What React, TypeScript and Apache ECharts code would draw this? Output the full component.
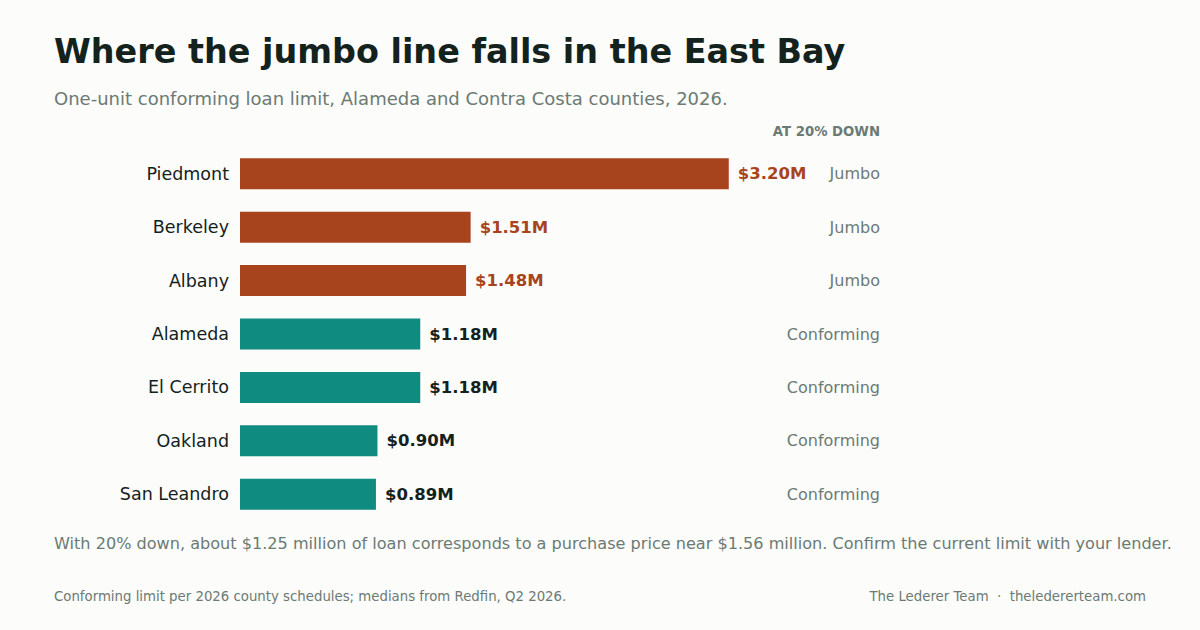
import { useEffect, useRef } from 'react';
import * as echarts from 'echarts';

// Conforming limit / median by city, in millions
const cities = ['Piedmont', 'Berkeley', 'Albany', 'Alameda', 'El Cerrito', 'Oakland', 'San Leandro'];
const medians = [3.2, 1.51, 1.48, 1.18, 1.18, 0.9, 0.89];
const statuses = ['Jumbo', 'Jumbo', 'Jumbo', 'Conforming', 'Conforming', 'Conforming', 'Conforming'];

const JUMBO = '#a8441d';
const CONFORMING = '#0f8b7f';
const INK = '#13221d';
const MUTED = '#6b7a74';
const FONT = '"DejaVu Sans", sans-serif';

export default function App() {
  const chartRef = useRef<HTMLDivElement>(null);

  useEffect(() => {
    if (!chartRef.current) return;
    const chart = echarts.init(chartRef.current, null, { renderer: 'svg' });

    const option: echarts.EChartsOption = {
      animation: false,
      backgroundColor: '#fcfcfa',
      textStyle: { fontFamily: FONT },
      grid: { left: 240, width: 640, top: 147, height: 374 },
      xAxis: {
        type: 'value',
        min: 0,
        max: 4.19,
        show: false,
      },
      yAxis: [
        {
          type: 'category',
          data: cities,
          inverse: true,
          axisLine: { show: false },
          axisTick: { show: false },
          axisLabel: {
            color: INK,
            fontSize: 17.5,
            margin: 11,
            padding: [4, 0, 0, 0],
            fontFamily: FONT,
          },
        },
        {
          type: 'category',
          data: statuses,
          inverse: true,
          position: 'right',
          axisLine: { show: false },
          axisTick: { show: false },
          axisLabel: { color: MUTED, fontSize: 16, margin: 0, align: 'right', fontFamily: FONT },
        },
      ],
      series: [
        {
          type: 'bar',
          yAxisIndex: 0,
          barWidth: 31,
          data: medians.map((v, i) => {
            const color = statuses[i] === 'Jumbo' ? JUMBO : CONFORMING;
            return {
              value: v,
              itemStyle: { color },
              label: { color: statuses[i] === 'Jumbo' ? JUMBO : INK },
            };
          }),
          label: {
            show: true,
            position: 'right',
            distance: 9,
            fontSize: 16.5,
            fontWeight: 'bold',
            fontFamily: FONT,
            formatter: (p: any) => `$${Number(p.value).toFixed(2)}M`,
          },
        },
      ],
      graphic: [
        {
          type: 'text',
          x: 54,
          y: 51,
          style: {
            text: 'Where the jumbo line falls in the East Bay',
            fontSize: 33.4,
            fontWeight: 'bold',
            fontFamily: FONT,
            fill: INK,
            verticalAlign: 'middle',
          },
        },
        {
          type: 'text',
          x: 54,
          y: 98,
          style: {
            text: 'One-unit conforming loan limit, Alameda and Contra Costa counties, 2026.',
            fontSize: 18,
            fontFamily: FONT,
            fill: MUTED,
            verticalAlign: 'middle',
          },
        },
        {
          type: 'text',
          x: 880,
          y: 131,
          style: {
            text: 'AT 20% DOWN',
            fontSize: 13.25,
            fontWeight: 'bold',
            fontFamily: FONT,
            fill: MUTED,
            align: 'right',
            verticalAlign: 'middle',
          },
        },
        {
          type: 'text',
          x: 54,
          y: 543,
          style: {
            text: 'With 20% down, about $1.25 million of loan corresponds to a purchase price near $1.56 million. Confirm the current limit with your lender.',
            fontSize: 16.1,
            fontFamily: FONT,
            fill: MUTED,
            verticalAlign: 'middle',
          },
        },
        {
          type: 'text',
          x: 54,
          y: 596,
          style: {
            text: 'Conforming limit per 2026 county schedules; medians from Redfin, Q2 2026.',
            fontSize: 13.3,
            fontFamily: FONT,
            fill: MUTED,
            verticalAlign: 'middle',
          },
        },
        {
          type: 'text',
          x: 1146,
          y: 596,
          style: {
            text: 'The Lederer Team  ·  theledererteam.com',
            fontSize: 13.3,
            fontFamily: FONT,
            fill: MUTED,
            align: 'right',
            verticalAlign: 'middle',
          },
        },
      ],
    };

    chart.setOption(option as any);

    return () => {
      chart.dispose();
    };
  }, []);

  return (
    <div style={{ position: 'fixed', left: 0, top: 0, width: 1200, height: 630 }}>
      <div ref={chartRef} style={{ width: 1200, height: 630 }} />
    </div>
  );
}
